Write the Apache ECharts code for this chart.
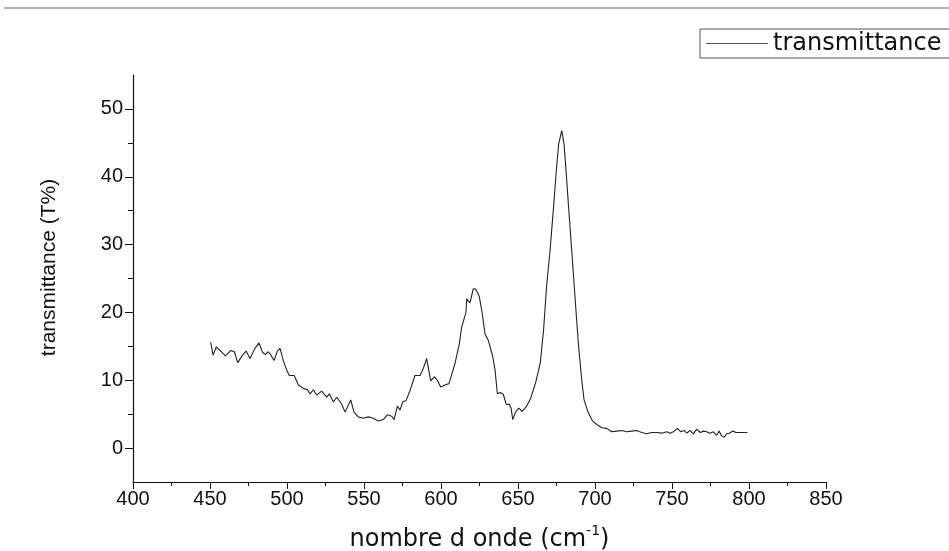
<!DOCTYPE html>
<html>
<head>
<meta charset="utf-8">
<script src="https://cdn.jsdelivr.net/npm/echarts@6/dist/echarts.min.js"></script>
<style>
html,body{margin:0;padding:0;background:#fff;}
#main{width:949px;height:551px;}
</style>
</head>
<body>
<div id="main"></div>
<script>
const seriesName = 'transmittance';
const wavenumber = [450.4,452,454,456.5,460,463.6,465.8,468,470.8,473.4,476,479.2,481.8,484.2,486.1,487.9,489.6,491.6,493.7,495.5,497.6,499.8,501.5,504.7,507.4,510.6,513.2,515,517.1,519.3,522.5,525.8,527.5,530.1,532.3,535.5,537.7,541.4,543.5,546.3,549.6,552.8,556,559.3,562.5,565.1,568,569.5,571.7,573.4,575.1,577.3,579.9,583.1,586.4,588.1,590.7,593.3,595.7,597.6,599.8,602.6,605.2,609.1,611.9,613.4,616.2,616.7,618.8,621,622.7,624.9,626.8,628.6,630.7,633.6,635.1,636.6,638.5,640.5,642.4,644.3,645.5,646.6,648.4,650.6,652.7,655.4,658.2,661.5,664.5,666.6,668.6,670.8,672.9,674.7,676.4,678.4,679.9,681.2,682.7,684.9,687,689.2,691.4,692.9,695.3,698.4,701.6,704.5,707.6,710.8,714.1,717.3,720.6,723.8,727.1,730.3,733.6,736.8,740.1,743.3,746.6,748.7,750.9,753.5,755.7,757.8,759.6,761.7,763.9,766,768.4,770.5,772.5,774.7,776.8,779,780.6,782.2,783.8,785.5,787.2,789.4,791.6,793.7,796.3,799];
const transmittance = [15.6,13.7,14.9,14.4,13.6,14.4,14.2,12.6,13.6,14.3,13.2,14.7,15.5,14.1,13.8,14.2,13.7,12.9,14.3,14.7,12.9,11.5,10.7,10.7,9.3,8.8,8.6,8.0,8.6,7.8,8.4,7.5,8.0,6.8,7.5,6.5,5.3,7.1,5.3,4.6,4.4,4.6,4.4,4.0,4.2,4.9,4.7,4.2,6.2,5.6,6.8,7.0,8.5,10.7,10.7,11.5,13.2,9.9,10.5,10.0,9.0,9.3,9.5,12.5,15.4,17.8,20.0,22.0,21.4,23.5,23.4,22.3,19.8,16.8,15.9,13.5,11.5,8.0,8.2,7.9,6.4,6.5,5.9,4.2,5.3,5.9,5.4,6.1,7.3,9.7,12.6,17.4,24.0,29.1,35.0,40.4,44.8,46.8,44.8,40.9,36.0,29.1,22.3,15.4,10.0,7.1,5.4,4.0,3.4,3.0,2.9,2.4,2.5,2.6,2.4,2.5,2.6,2.3,2.1,2.3,2.3,2.2,2.4,2.2,2.4,2.9,2.4,2.6,2.2,2.6,2.1,2.8,2.3,2.5,2.4,2.2,2.4,1.9,2.5,1.8,1.6,2.1,2.2,2.5,2.3,2.3,2.3,2.3];
const yMajorTicks = [0,10,20,30,40,50];
const yMinorTicks = [5,15,25,35,45];
const xAxisTitle = 'nombre d onde (cm';
const yAxisTitle = 'transmittance (T%)';

const points = wavenumber.map((w,i)=>[w, transmittance[i]]);
const font = '"Liberation Sans", Arial, sans-serif';
const wideFont = '"DejaVu Sans", "Liberation Sans", sans-serif';
const axisColor = '#111';

const chart = echarts.init(document.getElementById('main'), null, {renderer:'canvas'});
chart.setOption({
  animation:false,
  backgroundColor:'#fff',
  textStyle:{fontFamily:font},
  grid:{left:133, right:123, top:75, bottom:69, containLabel:false, outerBoundsMode:'none'},
  graphic:[{
    type:'line', shape:{x1:4,y1:8,x2:949,y2:8},
    style:{stroke:'#9a9a9a', lineWidth:1.5}, silent:true
  }],
  legend:{
    data:[{name:seriesName, icon:'rect', itemStyle:{color:'#555'}}],
    left:700, top:29,
    orient:'horizontal',
    itemWidth:62, itemHeight:1.2, itemGap:6,
    padding:[2,12,2,6],
    borderColor:'#555', borderWidth:1,
    textStyle:{fontFamily:wideFont, fontSize:24, color:'#111', lineHeight:25}
  },
  xAxis:{
    type:'value', min:400, max:850, interval:50,
    name: '{a|' + xAxisTitle + '}{s|-1}{a|)}',
    nameLocation:'middle', nameGap:42,
    nameTextStyle:{rich:{
      a:{fontFamily:wideFont, fontSize:24, color:'#111', verticalAlign:'bottom', lineHeight:28},
      s:{fontFamily:wideFont, fontSize:14, color:'#111', verticalAlign:'top', lineHeight:28, padding:[0,0,13,0]}
    }},
    axisLine:{show:true, onZero:false, lineStyle:{color:axisColor, width:1.2}},
    axisTick:{show:true, length:7, lineStyle:{color:axisColor}},
    minorTick:{show:true, splitNumber:2, length:4, lineStyle:{color:axisColor}},
    axisLabel:{fontFamily:font, fontSize:20, color:'#111', margin:7},
    splitLine:{show:false}
  },
  yAxis:[{
    type:'value', min:-5, max:55, interval:5,
    name:yAxisTitle, nameLocation:'middle', nameGap:73, nameRotate:90,
    nameTextStyle:{fontFamily:font, fontSize:21, color:'#111', padding:[0,0,0,22]},
    axisLine:{show:true, onZero:false, lineStyle:{color:axisColor, width:1.2}},
    axisTick:{show:true, length:8, customValues:yMajorTicks, lineStyle:{color:axisColor}},
    axisLabel:{fontFamily:font, fontSize:20, color:'#111', margin:10, customValues:yMajorTicks},
    splitLine:{show:false}
  },{
    type:'value', min:-5, max:55, interval:5, position:'left',
    axisLine:{show:false},
    axisTick:{show:true, length:5, customValues:yMinorTicks, lineStyle:{color:axisColor}},
    axisLabel:{show:false},
    splitLine:{show:false}
  }],
  series:[{
    name:seriesName, type:'line', data:points,
    symbol:'none', smooth:false,
    lineStyle:{color:'#222', width:1.1},
    itemStyle:{color:'#222'}
  }]
});
</script>
</body>
</html>
